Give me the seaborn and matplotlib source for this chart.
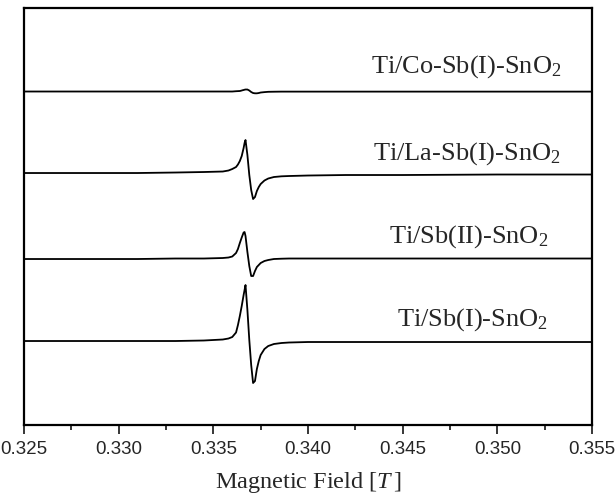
import numpy as np
import pandas as pd
import matplotlib
matplotlib.use("Agg")
import matplotlib.pyplot as plt
import seaborn as sns

# magnetic field grid (T)
field = [0.3250, 0.3280, 0.3310, 0.3330, 0.3345, 0.3355, 0.3358, 0.3360,
         0.3362, 0.3363, 0.3364, 0.3365, 0.33655, 0.3366, 0.33665, 0.3367,
         0.3368, 0.3369, 0.3370, 0.3371, 0.3372, 0.3373, 0.3374, 0.3375,
         0.3377, 0.3379, 0.3382, 0.3386, 0.3390, 0.3400, 0.3420, 0.3450,
         0.3500, 0.3550]

# EPR derivative signals (a.u., relative to each baseline)
sig_co = [0, 0, 0, 0, 0, 0, 0, 0,
          0.3, 0.4, 0.5, 1, 1.3, 1.5, 1.8, 2,
          2, 1, -0.5, -1.5, -1.8, -1.8, -1.5, -1,
          -0.6, -0.3, -0.2, -0.1, -0.1, -0.1, -0.1, -0.1,
          -0.1, -0.1]
sig_la = [0, 0, 0, 0.5, 1, 1.5, 2.5, 4,
          6, 8.5, 12, 17, 21, 25, 30, 33,
          18, -2, -17, -26, -24, -18, -14, -11,
          -7.5, -5.5, -4, -3.3, -3, -2.5, -2, -2,
          -1.5, -1.5]
sig_sb2 = [0, 0, 0, 0.5, 0.5, 1, 1.5, 2.5,
           6, 10, 16, 21.5, 24, 26.5, 27, 23,
           7, -7, -17, -17, -12, -8, -6, -4,
           -2, -1, 0, 0.3, 0.5, 0.5, 0.5, 0.5,
           0.5, 0.5]
sig_sb1 = [0, 0, 0, 0, 0.5, 1.5, 2.5, 4,
           8.5, 16, 25, 35, 40.5, 46, 51, 56,
           31, 1, -24, -42, -40, -28, -20, -14,
           -8, -5, -3, -2, -1.5, -1, -1, -1,
           -1, -1]

labels = ["Ti/Co-Sb(I)-SnO$_2$", "Ti/La-Sb(I)-SnO$_2$",
          "Ti/Sb(II)-SnO$_2$", "Ti/Sb(I)-SnO$_2$"]
offsets = [333.5, 252, 166, 84]  # vertical stacking of the spectra
signals = [sig_co, sig_la, sig_sb2, sig_sb1]

sns.set_theme(style="white")
plt.rcParams["font.family"] = ["Liberation Sans", "DejaVu Sans"]
plt.rcParams["mathtext.fontset"] = "custom"
plt.rcParams["mathtext.rm"] = "Liberation Serif"
plt.rcParams["mathtext.it"] = "Liberation Serif:italic"

fig = plt.figure(figsize=(6.15, 4.95), dpi=100)
ax = fig.add_axes([0.039, 0.1414, 0.9236, 0.8424])

for sig, off in zip(signals, offsets):
    df = pd.DataFrame({"field": field, "intensity": np.array(sig) + off})
    sns.lineplot(data=df, x="field", y="intensity", ax=ax, color="black",
                 linewidth=1.3, estimator=None, sort=False)

# spectrum labels
label_pos = [(0.947, 0.845), (0.944, 0.637), (0.9225, 0.438), (0.9225, 0.238)]
for txt, (lx, ly) in zip(labels, label_pos):
    ax.text(lx, ly, txt, transform=ax.transAxes, ha="right", va="baseline",
            fontsize=19, family="Liberation Serif")

ax.set_xlim(0.325, 0.355)
ax.set_ylim(0, 417)
ax.set_xticks(np.arange(0.325, 0.3551, 0.005))
ax.set_xticks(np.arange(0.3275, 0.355, 0.005), minor=True)
ax.set_xticklabels(["0.325", "0.330", "0.335", "0.340", "0.345", "0.350", "0.355"])
ax.set_yticks([])
ax.tick_params(axis="x", which="major", direction="out", length=6.5, width=1.3,
               labelsize=13.5, pad=5, bottom=True)
ax.tick_params(axis="x", which="minor", direction="out", length=3.5, width=1.3,
               bottom=True)
ax.set_xlabel("Magnetic Field [$T\\,$]", fontsize=17.5, family="Liberation Serif",
              labelpad=8.5)
ax.set_ylabel("")
for sp in ax.spines.values():
    sp.set_linewidth(1.6)
    sp.set_color("black")

fig.savefig("out.png", dpi=100)
